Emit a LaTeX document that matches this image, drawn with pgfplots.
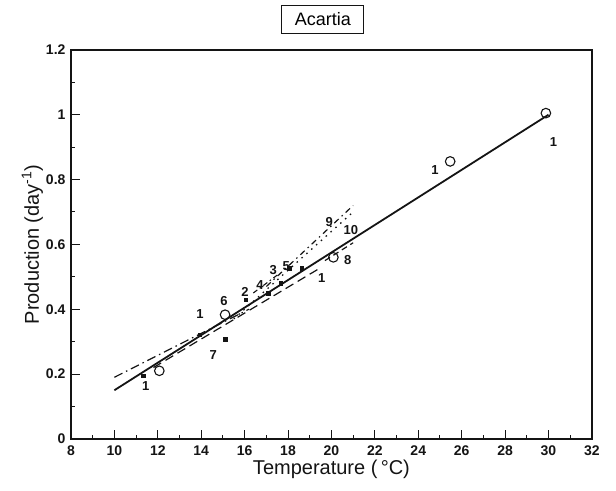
\documentclass[border=0pt]{standalone}
\usepackage{fontspec}
\setmainfont{Liberation Sans}
\usepackage{pgfplots}
\pgfplotsset{compat=1.18}
\definecolor{cInk}{RGB}{20,20,20}

\begin{document}
\begin{tikzpicture}
\begin{axis}[
  scale only axis,
  width=521pt, height=389pt,
  xmin=8, xmax=32, ymin=0, ymax=1.2,
  xtick={8,10,...,32}, minor x tick num=1,
  ytick={0,0.2,...,1.2}, minor y tick num=1,
  tick align=inside, tick pos=left,
  major tick length=9pt, minor tick length=4pt,
  every tick/.style={cInk, line width=1pt},
  axis line style={cInk, line width=1.3pt},
  /pgf/number format/assume math mode=true,
  tick label style={font=\fontsize{14}{14}\selectfont\bfseries, color=cInk},
  xticklabel style={yshift=-3pt},
  yticklabel style={xshift=-2pt},
  label style={font=\fontsize{20}{20}\selectfont, color=cInk},
  xlabel={Temperature (\,°C)},
  ylabel={Production (day\textsuperscript{-1})},
  xlabel style={yshift=2pt},
  ylabel style={yshift=-4pt},
  clip=false,
  every axis plot/.append style={cInk},
]
% invisible frame giving the page the reference's proportions
\path (axis cs:4.73,-0.16) rectangle (axis cs:33.11,1.354);

% title box
\node[draw=cInk, line width=1pt, font=\fontsize{18}{18}\selectfont,
      minimum width=82pt, minimum height=28pt, inner sep=0pt]
  at (axis cs:19.6,1.295) {Acartia};

% fitted lines
\addplot[line width=1.8pt] coordinates {(10,0.15) (30,1.0)};
\addplot[line width=1.2pt, dash pattern=on 9pt off 4pt on 1.5pt off 4pt]
  coordinates {(10,0.19) (16.2,0.40)};
\addplot[line width=1.2pt, dash pattern=on 9pt off 5pt]
  coordinates {(11.8,0.22) (19.55,0.53)};
\addplot[line width=1.3pt, dash pattern=on 1.5pt off 5pt]
  coordinates {(15.5,0.37) (21,0.70)};
\addplot[line width=1.2pt, dash pattern=on 6pt off 4pt on 1.5pt off 4pt]
  coordinates {(17,0.47) (21,0.72)};
\addplot[line width=1.2pt, dash pattern=on 6pt off 4pt]
  coordinates {(19.7,0.55) (21,0.605)};
\addplot[line width=1.1pt, dash pattern=on 5pt off 3pt on 1.5pt off 3pt]
  coordinates {(16.4,0.45) (17.6,0.51)};

% open circles
\addplot[only marks, mark=o, mark size=4.8pt, line width=1.1pt]
  coordinates {(12.07,0.21) (15.1,0.383) (20.09,0.56) (25.47,0.856) (29.88,1.005)};
% small filled squares
\addplot[only marks, mark=square*, mark size=1.7pt]
  coordinates {(11.33,0.194) (13.94,0.321) (15.1,0.308) (16.06,0.429)
               (17.09,0.45) (17.66,0.48) (18.05,0.527) (18.63,0.527)};

% study labels
\addplot[only marks, mark=none, nodes near coords, point meta=explicit symbolic,
  every node near coord/.append style={anchor=center, inner sep=0pt,
    font=\fontsize{13}{13}\selectfont\bfseries, color=cInk}]
  table[meta=lab] {
x     y     lab
11.44 0.164 1
13.94 0.386 1
15.05 0.424 6
14.56 0.260 7
16.02 0.452 2
16.71 0.475 4
17.32 0.520 3
17.92 0.532 5
19.55 0.496 1
20.75 0.552 8
19.90 0.668 9
20.90 0.643 10
24.77 0.830 1
30.23 0.915 1
};
\end{axis}
\end{tikzpicture}
\end{document}
